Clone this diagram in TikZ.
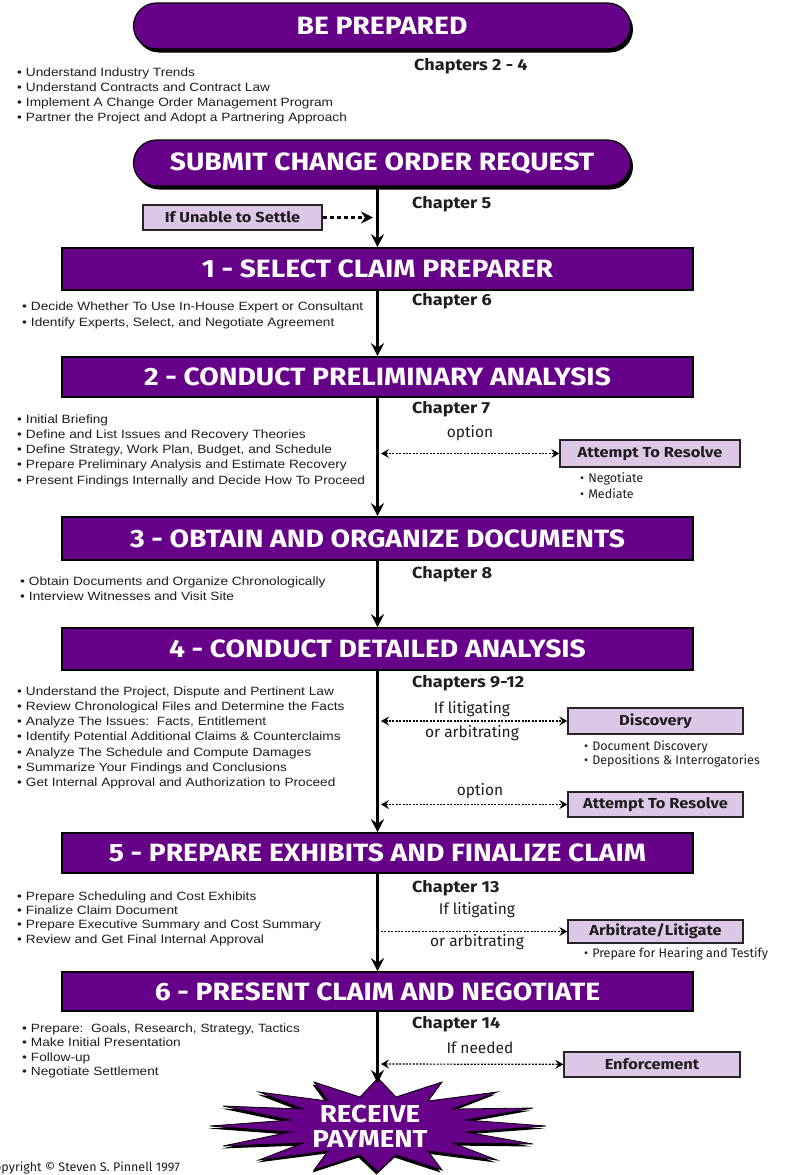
\documentclass[tikz,border=0pt]{standalone}
\usepackage{fontspec}
\setmainfont{Liberation Sans}
\newfontfamily\gill{Fira Sans}
\newfontfamily\gillwide{Fira Sans}[FakeStretch=1.13]
\newfontfamily\bodyfont{Liberation Sans}[FakeStretch=1.14]
\usetikzlibrary{arrows.meta,shadows}

\definecolor{plum}{HTML}{660088}
\definecolor{lilac}{HTML}{DCC8E6}
\definecolor{ink}{HTML}{1E1E1E}

\tikzset{
  sidetip/.tip={Stealth[length=8pt,width=9pt,inset=3pt]},
  stage/.style={draw=black, line width=1.6pt, fill=plum, text=white,
    minimum width=631pt, inner sep=0pt,
    font=\gillwide\bfseries\fontsize{25}{25}\selectfont},
  pill/.style={draw=black, line width=1.2pt, fill=plum, text=white,
    minimum width=497pt, minimum height=46pt, rounded corners=23pt, inner sep=0pt,
    font=\gillwide\bfseries\fontsize{25}{25}\selectfont,
    drop shadow={shadow xshift=2.5pt, shadow yshift=-3.5pt, fill=black, opacity=1}},
  optbox/.style={draw=black!85, line width=1.4pt, fill=lilac, text=ink,
    inner sep=0pt, font=\gillwide\bfseries\fontsize{14.5}{15}\selectfont},
  chapter/.style={anchor=base west, inner sep=0pt, text=ink,
    font=\gillwide\bfseries\fontsize{16}{16}\selectfont},
  item/.style={anchor=base west, inner sep=0pt, text=ink,
    font=\bodyfont\fontsize{12}{12}\selectfont},
  subitem/.style={anchor=base west, inner sep=0pt, text=ink,
    font=\gill\fontsize{12.5}{13}\selectfont},
  cond/.style={inner sep=0pt, text=ink, font=\gill\fontsize{15.5}{16}\selectfont},
  flow/.style={line width=3pt, -{Stealth[length=13pt,width=13pt,inset=4.5pt]}},
  side/.style={line width=1.2pt, dash pattern=on 2pt off 1.4pt},
}

\begin{document}
\begin{tikzpicture}[x=1pt,y=-1pt]
\useasboundingbox (0,0) rectangle (787,1175);
\fill[white] (0,0) rectangle (787,1175);
\clip (0,0) rectangle (787,1175);

% ---- opening stages ----
\node[pill] (prep) at (382,26) {BE PREPARED};
\node[chapter] (ch0) at (414,70) {Chapters 2 - 4};
\foreach \t [count=\i] in {Understand Industry Trends,
    Understand Contracts and Contract Law,
    Implement A Change Order Management Program,
    Partner the Project and Adopt a Partnering Approach}
  \node[item] (p0-\i) at (17,{76+15.3*(\i-1)}) {\textbullet\hspace{4pt}\t};

\node[pill] (submit) at (382,163) {SUBMIT CHANGE ORDER REQUEST};
\node[chapter] (ch5) at (412,208) {Chapter 5};
\node[optbox, minimum width=179pt, minimum height=25pt] (unable) at (232.5,217.5) {If Unable to Settle};
\coordinate (j0) at (373,217.5);

% ---- numbered stages ----
\node[stage, minimum height=42pt] (s1) at (377.5,269) {1 - SELECT CLAIM PREPARER};
\node[stage, minimum height=40pt] (s2) at (377.5,377) {2 - CONDUCT PRELIMINARY ANALYSIS};
\node[stage, minimum height=43pt] (s3) at (377.5,538.5) {3 - OBTAIN AND ORGANIZE DOCUMENTS};
\node[stage, minimum height=42pt] (s4) at (377.5,649) {4 - CONDUCT DETAILED ANALYSIS};
\node[stage, minimum height=40pt] (s5) at (377.5,853) {5 - PREPARE EXHIBITS AND FINALIZE CLAIM};
\node[stage, minimum height=39pt] (s6) at (377.5,991.5) {6 - PRESENT CLAIM AND NEGOTIATE};

% ---- final starburst ----
\coordinate (burstTop) at (377.5,1083);
\fill[black, shift={(-1.5,2.5)}]
  (546,1126) -- (466,1120) -- (533,1108) -- (453,1109) -- (497,1092) -- (428,1101)
  -- (442,1082) -- (396,1097) -- (378,1078) -- (360,1097) -- (314,1082) -- (328,1101)
  -- (259,1092) -- (303,1109) -- (223,1106) -- (290,1120) -- (210,1126) -- (290,1132)
  -- (223,1146) -- (303,1143) -- (259,1160) -- (328,1151) -- (314,1170) -- (360,1155)
  -- (378,1172) -- (396,1155) -- (442,1170) -- (428,1151) -- (497,1160) -- (453,1143)
  -- (533,1144) -- (466,1132) -- cycle;
\filldraw[fill=plum, draw=black, line width=0.8pt]
  (546,1126) -- (466,1120) -- (533,1108) -- (453,1109) -- (497,1092) -- (428,1101)
  -- (442,1082) -- (396,1097) -- (378,1078) -- (360,1097) -- (314,1082) -- (328,1101)
  -- (259,1092) -- (303,1109) -- (223,1106) -- (290,1120) -- (210,1126) -- (290,1132)
  -- (223,1146) -- (303,1143) -- (259,1160) -- (328,1151) -- (314,1170) -- (360,1155)
  -- (378,1172) -- (396,1155) -- (442,1170) -- (428,1151) -- (497,1160) -- (453,1143)
  -- (533,1144) -- (466,1132) -- cycle;
\node[align=center, text=white, inner sep=0pt,
      font=\gillwide\bfseries\fontsize{24.5}{25}\selectfont] (pay) at (370,1126) {RECEIVE\\PAYMENT};

% ---- main flow ----
\draw[flow] (submit.south -| s1.north) -- (s1.north);
\draw[flow] (s1) -- (s2);
\draw[flow] (s2) -- (s3);
\draw[flow] (s3) -- (s4);
\draw[flow] (s4) -- (s5);
\draw[flow] (s5) -- (s6);
\draw[flow] (s6) -- (burstTop);
\draw[line width=2.2pt, dash pattern=on 4pt off 3pt,
      -{Stealth[length=12pt,width=12pt,inset=4pt]}] (unable) -- (j0);

% ---- stage 1 ----
\node[chapter] (ch6) at (412,305) {Chapter 6};
\foreach \t [count=\i] in {Decide Whether To Use In-House Expert or Consultant,
    {Identify Experts, Select, and Negotiate Agreement}}
  \node[item] (p1-\i) at (22,{310+16*(\i-1)}) {\textbullet\hspace{4pt}\t};

% ---- stage 2 ----
\node[chapter] (ch7) at (412,413) {Chapter 7};
\foreach \t [count=\i] in {Initial Briefing,
    Define and List Issues and Recovery Theories,
    {Define Strategy, Work Plan, Budget, and Schedule},
    Prepare Preliminary Analysis and Estimate Recovery,
    Present Findings Internally and Decide How To Proceed}
  \node[item] (p2-\i) at (17,{423+15.3*(\i-1)}) {\textbullet\hspace{4pt}\t};
\node[optbox, minimum width=180pt, minimum height=27pt] (res1) at (650,453.5) {Attempt To Resolve};
\coordinate (l1) at (381,453.5);
\draw[side, sidetip-sidetip] (l1) -- (res1);
\node[cond] (c1) at (470,433) {option};
\foreach \t [count=\i] in {Negotiate, Mediate}
  \node[subitem] (r1-\i) at (580,{482+16*(\i-1)}) {\textbullet\hspace{4pt}\t};

% ---- stage 3 ----
\node[chapter] (ch8) at (412,578) {Chapter 8};
\foreach \t [count=\i] in {Obtain Documents and Organize Chronologically,
    Interview Witnesses and Visit Site}
  \node[item] (p3-\i) at (20,{585+15.3*(\i-1)}) {\textbullet\hspace{4pt}\t};

% ---- stage 4 ----
\node[chapter] (ch9) at (412,687) {Chapters 9-12};
\foreach \t [count=\i] in {{Understand the Project, Dispute and Pertinent Law},
    Review Chronological Files and Determine the Facts,
    {Analyze The Issues:\ \ Facts, Entitlement},
    Identify Potential Additional Claims \& Counterclaims,
    Analyze The Schedule and Compute Damages,
    Summarize Your Findings and Conclusions,
    Get Internal Approval and Authorization to Proceed}
  \node[item] (p4-\i) at (17,{695+15.3*(\i-1)}) {\textbullet\hspace{4pt}\t};
\node[optbox, minimum width=175pt, minimum height=26pt] (disc) at (655.5,721) {Discovery};
\coordinate (l2) at (381,721);
\draw[side, sidetip-sidetip] (l2) -- (disc);
\node[cond] (c2a) at (472,709) {If litigating};
\node[cond] (c2b) at (472,733) {or arbitrating};
\foreach \t [count=\i] in {Document Discovery, Depositions \& Interrogatories}
  \node[subitem] (d-\i) at (584,{750+14.5*(\i-1)}) {\textbullet\hspace{4pt}\t};
\node[optbox, minimum width=175pt, minimum height=25pt] (res2) at (655.5,804.5) {Attempt To Resolve};
\coordinate (l3) at (381,804.5);
\draw[side, sidetip-sidetip] (l3) -- (res2);
\node[cond] (c3) at (480,791) {option};

% ---- stage 5 ----
\node[chapter] (ch13) at (412,892) {Chapter 13};
\foreach \t [count=\i] in {Prepare Scheduling and Cost Exhibits,
    Finalize Claim Document,
    Prepare Executive Summary and Cost Summary,
    Review and Get Final Internal Approval}
  \node[item] (p5-\i) at (17,{900+14.4*(\i-1)}) {\textbullet\hspace{4pt}\t};
\node[optbox, minimum width=175pt, minimum height=23pt] (arb) at (655.5,931.5) {Arbitrate/Litigate};
\coordinate (l4) at (381,931.5);
\draw[side, -sidetip] (l4) -- (arb);
\node[cond] (c4a) at (477,910) {If litigating};
\node[cond] (c4b) at (477,942) {or arbitrating};
\node[subitem] (a-1) at (584,957) {\textbullet\hspace{4pt}Prepare for Hearing and Testify};

% ---- stage 6 ----
\node[chapter] (ch14) at (412,1028) {Chapter 14};
\foreach \t [count=\i] in {{Prepare:\ \ Goals, Research, Strategy, Tactics},
    Make Initial Presentation,
    Follow-up,
    Negotiate Settlement}
  \node[item] (p6-\i) at (22,{1032+14.5*(\i-1)}) {\textbullet\hspace{4pt}\t};
\node[optbox, minimum width=176pt, minimum height=25pt] (enf) at (652,1064.5) {Enforcement};
\coordinate (l5) at (381,1064);
\draw[side, sidetip-sidetip] (l5) -- (enf);
\node[cond] (c5) at (480,1048) {If needed};

% ---- credit line ----
\node[anchor=base east, inner sep=0pt, text=ink, font=\gill\fontsize{12.5}{13}\selectfont]
  (credit) at (180,1171) {Copyright © Steven S. Pinnell 1997};
\end{tikzpicture}
\end{document}
